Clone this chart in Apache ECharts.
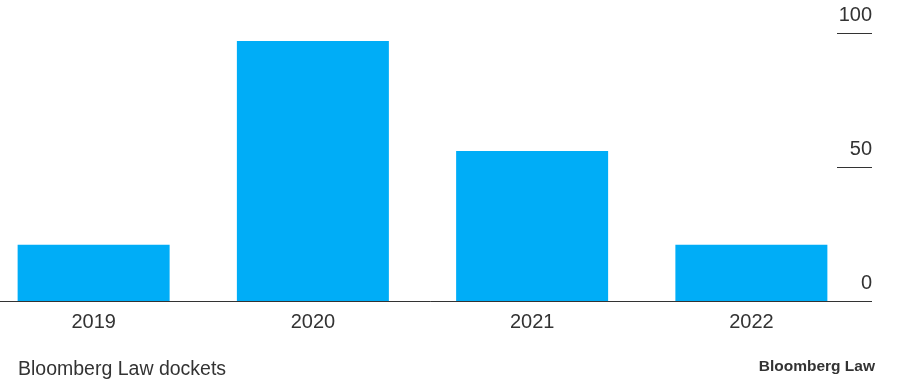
<!doctype html>
<html lang="en">
<head>
	<meta charset="utf-8">
	<title>Bloomberg Law dockets</title>
	<script src="https://cdn.jsdelivr.net/npm/echarts@6/dist/echarts.min.js"></script>
	<style>
		html, body { margin: 0; padding: 0; background: #fff; }
		#chart { width: 899px; height: 386px; }
	</style>
</head>
<body>
	<div id="chart"></div>
	<script>
		// data
		var years = ['2019', '2020', '2021', '2022'];
		var dockets = [21, 97, 56, 21];
		var yTicks = [0, 50, 100];

		var textColor = '#333333';
		var fontFam = '"Liberation Sans", Arial, sans-serif';

		var option = {
			animation: false,
			title: [{
				text: 'Bloomberg Law dockets',
				left: 18,
				top: 360,
				padding: 0,
				textStyle: { fontFamily: fontFam, fontSize: 19.5, fontWeight: 'normal', color: textColor }
			}, {
				text: 'Bloomberg Law',
				right: 24,
				top: 359,
				padding: 0,
				textStyle: { fontFamily: fontFam, fontSize: 15.5, fontWeight: 'bold', color: textColor }
			}],
			grid: {
				left: -16,
				right: 38,
				top: 33,
				bottom: 85,
				containLabel: false,
				outerBoundsMode: 'none'
			},
			xAxis: {
				type: 'category',
				data: years,
				axisLine: { show: true, lineStyle: { color: '#333', width: 1 } },
				axisTick: { show: false },
				axisLabel: { margin: 11, fontFamily: fontFam, fontSize: 20, color: textColor }
			},
			yAxis: {
				type: 'value',
				position: 'right',
				offset: -24,
				min: yTicks[0],
				max: yTicks[yTicks.length - 1],
				interval: yTicks[1] - yTicks[0],
				axisLine: { show: false },
				axisTick: { show: true, inside: false, length: 35, lineStyle: { color: '#333', width: 1 } },
				splitLine: { show: false },
				axisLabel: {
					align: 'right',
					verticalAlign: 'bottom',
					margin: 35,
					padding: [0, 0, 8, 0],
					fontFamily: fontFam,
					fontSize: 20,
					color: textColor
				}
			},
			series: [{
				type: 'bar',
				data: dockets,
				barWidth: 152,
				itemStyle: { color: '#00ADF7' }
			}]
		};

		var chart = echarts.init(document.getElementById('chart'));
		chart.setOption(option);
	</script>
</body>
</html>
